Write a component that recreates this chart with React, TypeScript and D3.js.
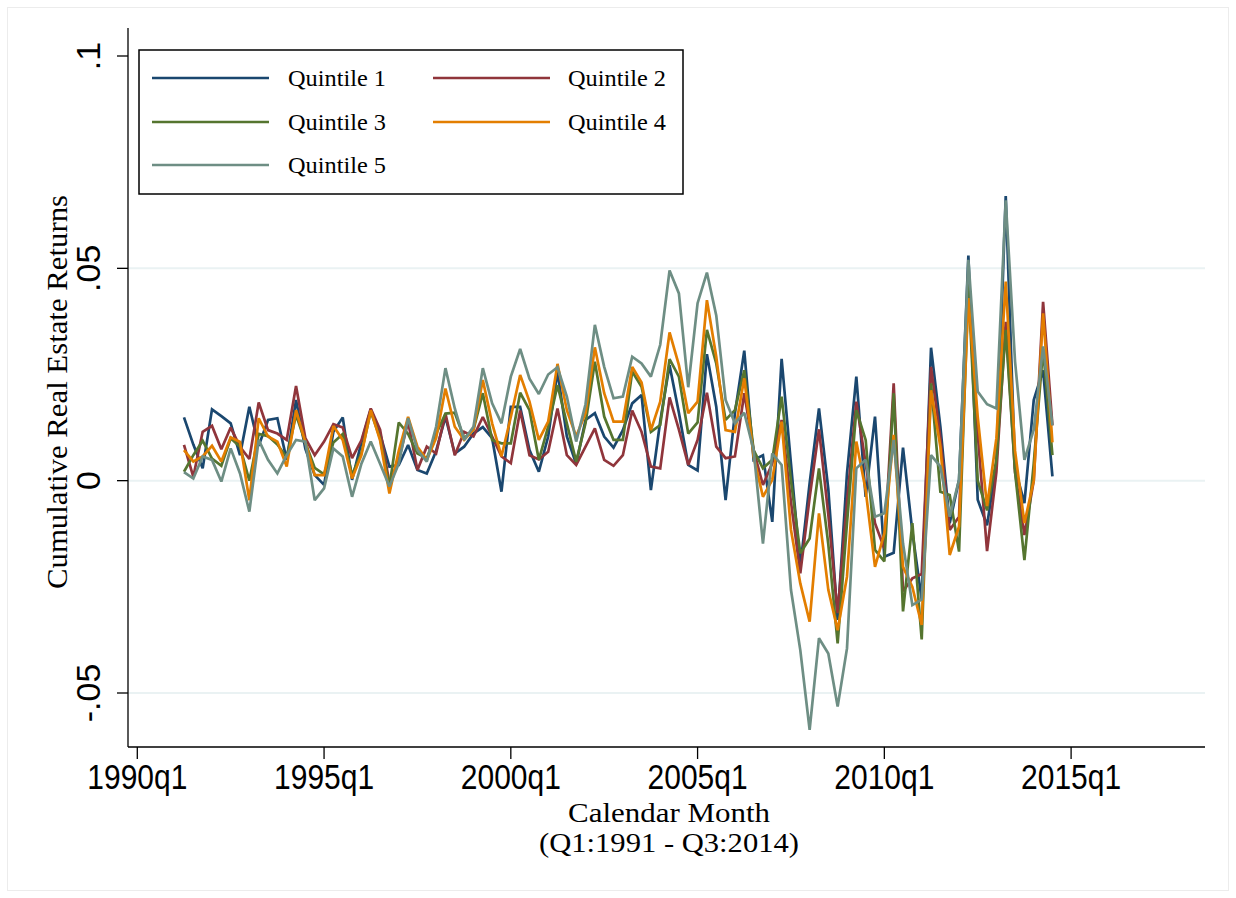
import React from "react";
import * as d3 from "d3";

// Quarter index 0 = 1990q1; data start at 1991q2 (index 5)
const startIndex = 5;
const xTickLabels = ["1990q1", "1995q1", "2000q1", "2005q1", "2010q1", "2015q1"];
const xTickIndex = [0, 20, 40, 60, 80, 100];
const yTickValues = [-0.05, 0, 0.05, 0.1];
const yTickLabels = ["-.05", "0", ".05", ".1"];
const seriesNames = ["Quintile 1", "Quintile 2", "Quintile 3", "Quintile 4", "Quintile 5"];
const seriesColors = ["#1a476f", "#90353b", "#55752f", "#e37e00", "#6e8e84"];

const quintile1 = [0.0149, 0.0085, 0.0029, 0.0168, 0.0152, 0.0135, 0.006, 0.0174, 0.0082, 0.0143,
  0.0147, 0.0049, 0.019, 0.0075, 0.0013, -0.001, 0.0115, 0.0149, 0.0002, 0.009,
  0.0168, 0.011, 0.0033, 0.0037, 0.0084, 0.0025, 0.0017, 0.007, 0.015, 0.0064,
  0.008, 0.0111, 0.0126, 0.01, -0.0026, 0.0174, 0.0174, 0.0072, 0.0021, 0.0104,
  0.0257, 0.0104, 0.0039, 0.0143, 0.0159, 0.0104, 0.0078, 0.0119, 0.0182, 0.0202,
  -0.0022, 0.014, 0.0272, 0.016, 0.0037, 0.0024, 0.0298, 0.0174, -0.0046, 0.0159,
  0.0306, 0.0049, 0.006, -0.0097, 0.0287, 0.004, -0.0203, -0.0006, 0.017, -0.002,
  -0.0328, 0.0017, 0.0245, -0.0038, 0.0151, -0.0179, -0.017, 0.0078, -0.012, -0.028,
  0.0313, 0.0127, -0.01, 0.0002, 0.053, -0.0045, -0.0105, 0.004, 0.067, 0.0029,
  -0.0053, 0.019, 0.026, 0.001];

const quintile2 = [0.0084, 0.0009, 0.0115, 0.0129, 0.0074, 0.0125, 0.008, 0.0051, 0.0184, 0.0119,
  0.0111, 0.0096, 0.0223, 0.01, 0.006, 0.0092, 0.0133, 0.0125, 0.0053, 0.0095,
  0.017, 0.012, -0.0006, 0.0049, 0.0139, 0.0025, 0.008, 0.0064, 0.0158, 0.006,
  0.0115, 0.0104, 0.015, 0.0104, 0.0057, 0.0041, 0.0165, 0.006, 0.005, 0.0068,
  0.017, 0.006, 0.0037, 0.008, 0.0123, 0.0049, 0.0035, 0.006, 0.0165, 0.0115,
  0.0033, 0.0029, 0.0196, 0.012, 0.0037, 0.0096, 0.0207, 0.008, 0.0053, 0.0057,
  0.0206, 0.0072, -0.001, 0.0041, 0.0143, -0.005, -0.0218, -0.004, 0.0121, -0.008,
  -0.0312, -0.005, 0.0186, 0.004, -0.01, -0.016, 0.0229, -0.026, -0.023, -0.022,
  0.0268, 0.01, -0.0116, -0.0085, 0.049, 0.011, -0.0166, 0.002, 0.0374, 0.002,
  -0.0128, 0.0, 0.0421, 0.013];

const quintile3 = [0.0021, 0.006, 0.0094, 0.0052, 0.0035, 0.01, 0.008, 0.0, 0.011, 0.0105,
  0.0085, 0.0055, 0.0155, 0.009, 0.003, 0.0015, 0.009, 0.011, 0.0013, 0.0065,
  0.0163, 0.01, -0.0014, 0.0137, 0.011, 0.0064, 0.0053, 0.011, 0.0158, 0.016,
  0.01, 0.012, 0.0206, 0.0096, 0.0088, 0.0088, 0.0207, 0.0166, 0.0049, 0.0127,
  0.0225, 0.0135, 0.0045, 0.0135, 0.028, 0.0151, 0.0096, 0.0096, 0.0257, 0.0221,
  0.0115, 0.0131, 0.0286, 0.0245, 0.0111, 0.0137, 0.0355, 0.0276, 0.0143, 0.0166,
  0.026, 0.0072, 0.0029, 0.0049, 0.0198, 0.0, -0.0171, -0.0136, 0.0029, -0.015,
  -0.0383, -0.01, 0.0166, 0.0096, -0.0163, -0.019, 0.0206, -0.0308, -0.01, -0.0374,
  0.0229, -0.0026, -0.0034, -0.0167, 0.046, 0.0, -0.007, 0.005, 0.0355, 0.002,
  -0.0187, 0.004, 0.031, 0.006];

const quintile4 = [0.0072, 0.0045, 0.0057, 0.0082, 0.0045, 0.0102, 0.0091, -0.0046, 0.0147, 0.0104,
  0.0092, 0.0033, 0.0166, 0.009, 0.0013, 0.0013, 0.0129, 0.0096, 0.0005, 0.006,
  0.0166, 0.0095, -0.003, 0.007, 0.015, 0.008, 0.0049, 0.01, 0.0217, 0.0127,
  0.0096, 0.012, 0.0237, 0.0135, 0.0057, 0.015, 0.0249, 0.0186, 0.0096, 0.0139,
  0.0275, 0.0166, 0.0104, 0.0159, 0.0314, 0.0206, 0.0139, 0.0139, 0.0268, 0.0231,
  0.0119, 0.0186, 0.0349, 0.0272, 0.0159, 0.0186, 0.0425, 0.0292, 0.0119, 0.0115,
  0.0241, 0.0057, -0.0038, 0.0002, 0.0139, -0.0116, -0.0242, -0.0332, -0.0077, -0.0257,
  -0.0352, -0.0226, 0.0092, -0.0022, -0.0203, -0.0124, 0.0108, -0.0203, -0.025, -0.034,
  0.0213, 0.008, -0.0175, -0.0108, 0.043, 0.015, -0.006, 0.01, 0.0469, 0.007,
  -0.01, 0.0, 0.0394, 0.009];

const quintile5 = [0.002, 0.0005, 0.0057, 0.0049, -0.0002, 0.0076, 0.0017, -0.0073, 0.0096, 0.0049,
  0.0017, 0.006, 0.0096, 0.0092, -0.0046, -0.0018, 0.0076, 0.0057, -0.0038, 0.004,
  0.0092, 0.004, -0.0014, 0.004, 0.0147, 0.0072, 0.0045, 0.0127, 0.0265, 0.017,
  0.0096, 0.0127, 0.0265, 0.0182, 0.0135, 0.0245, 0.031, 0.024, 0.0204, 0.025,
  0.0267, 0.0198, 0.0092, 0.018, 0.0367, 0.0268, 0.0194, 0.0198, 0.0292, 0.0276,
  0.0245, 0.032, 0.0495, 0.0441, 0.022, 0.0418, 0.049, 0.0389, 0.019, 0.0135,
  0.016, 0.0072, -0.0148, 0.0064, 0.0037, -0.0257, -0.0399, -0.0587, -0.0371, -0.0407,
  -0.0532, -0.0395, 0.0029, 0.0049, -0.0085, -0.0077, 0.0096, -0.0148, -0.0293, -0.028,
  0.006, 0.0033, -0.0085, 0.0002, 0.052, 0.021, 0.018, 0.017, 0.066, 0.028,
  0.0049, 0.012, 0.0316, 0.013];

const allSeries = [quintile1, quintile2, quintile3, quintile4, quintile5];

const W = 1236;
const H = 898;
const plotLeft = 128;
const plotRight = 1205;
const plotTop = 28;
const plotBottom = 747;

export default function App() {
  const x = d3.scaleLinear().domain([0, 100]).range([137.3, 1071.1]);
  const y = d3.scaleLinear().domain([-0.05, 0.1]).range([693, 56]);
  const line = d3
    .line<number>()
    .x((_, i) => x(startIndex + i))
    .y((d) => y(d));

  const serif = "'Liberation Serif', 'Times New Roman', serif";
  const sans = "'Liberation Sans', Arial, sans-serif";

  const legendRows = [
    { i: 0, col: 0, row: 0 },
    { i: 1, col: 1, row: 0 },
    { i: 2, col: 0, row: 1 },
    { i: 3, col: 1, row: 1 },
    { i: 4, col: 0, row: 2 },
  ];
  const legendRowY = [78, 122, 165];
  const legendLineX = [152, 433];
  const legendTextX = [288, 568];

  return (
    <svg
      width={W}
      height={H}
      style={{ position: "absolute", left: 0, top: 0, background: "#fff" }}
    >
      <rect x={0} y={0} width={W} height={H} fill="#ffffff" />
      <rect x={7.5} y={7.5} width={1221} height={883} fill="none" stroke="#ececec" strokeWidth={1} />
      {yTickValues
        .filter((v) => v < 0.1)
        .map((v) => (
          <line key={"g" + v} x1={plotLeft} x2={plotRight} y1={y(v)} y2={y(v)} stroke="#eaf2f3" strokeWidth={2} />
        ))}
      {allSeries.map((s, i) => (
        <path
          key={"s" + i}
          d={line(s) || ""}
          fill="none"
          stroke={seriesColors[i]}
          strokeWidth={2.7}
          strokeLinejoin="miter"
          strokeMiterlimit={2}
        />
      ))}
      <line x1={plotLeft} x2={plotLeft} y1={plotTop} y2={plotBottom} stroke="#000" strokeWidth={1.3} />
      <line x1={plotLeft} x2={plotRight} y1={plotBottom} y2={plotBottom} stroke="#000" strokeWidth={1.3} />
      {yTickValues.map((v, i) => (
        <g key={"yt" + v}>
          <line x1={plotLeft - 11} x2={plotLeft} y1={y(v)} y2={y(v)} stroke="#000" strokeWidth={1.3} />
          <text
            transform={`translate(100,${y(v)}) rotate(-90)`}
            textAnchor="middle"
            fontFamily={sans}
            fontSize={34}
            fill="#000"
          >
            {yTickLabels[i]}
          </text>
        </g>
      ))}
      {xTickIndex.map((q, i) => (
        <g key={"xt" + q}>
          <line x1={x(q)} x2={x(q)} y1={plotBottom} y2={plotBottom + 12} stroke="#000" strokeWidth={1.3} />
          <text
            x={x(q)}
            y={789}
            textAnchor="middle"
            fontFamily={sans}
            fontSize={35}
            textLength={100}
            lengthAdjust="spacingAndGlyphs"
            fill="#000"
          >
            {xTickLabels[i]}
          </text>
        </g>
      ))}
      <text
        transform="translate(67,392) rotate(-90)"
        textAnchor="middle"
        fontFamily={serif}
        fontSize={30}
        textLength={394}
        lengthAdjust="spacingAndGlyphs"
        fill="#000"
      >
        Cumulative Real Estate Returns
      </text>
      <text
        x={669}
        y={822}
        textAnchor="middle"
        fontFamily={serif}
        fontSize={27}
        textLength={202}
        lengthAdjust="spacingAndGlyphs"
        fill="#000"
      >
        Calendar Month
      </text>
      <text
        x={669}
        y={852}
        textAnchor="middle"
        fontFamily={serif}
        fontSize={27}
        textLength={260}
        lengthAdjust="spacingAndGlyphs"
        fill="#000"
      >
        (Q1:1991 - Q3:2014)
      </text>
      <rect x={139} y={50} width={544} height={144} fill="#fff" stroke="#000" strokeWidth={1.5} />
      {legendRows.map((r) => (
        <g key={"lg" + r.i}>
          <line
            x1={legendLineX[r.col]}
            x2={legendLineX[r.col] + 117}
            y1={legendRowY[r.row]}
            y2={legendRowY[r.row]}
            stroke={seriesColors[r.i]}
            strokeWidth={2.7}
          />
          <text
            x={legendTextX[r.col]}
            y={legendRowY[r.row] + 8}
            fontFamily={serif}
            fontSize={24}
            textLength={98}
            lengthAdjust="spacingAndGlyphs"
            fill="#000"
          >
            {seriesNames[r.i]}
          </text>
        </g>
      ))}
    </svg>
  );
}
